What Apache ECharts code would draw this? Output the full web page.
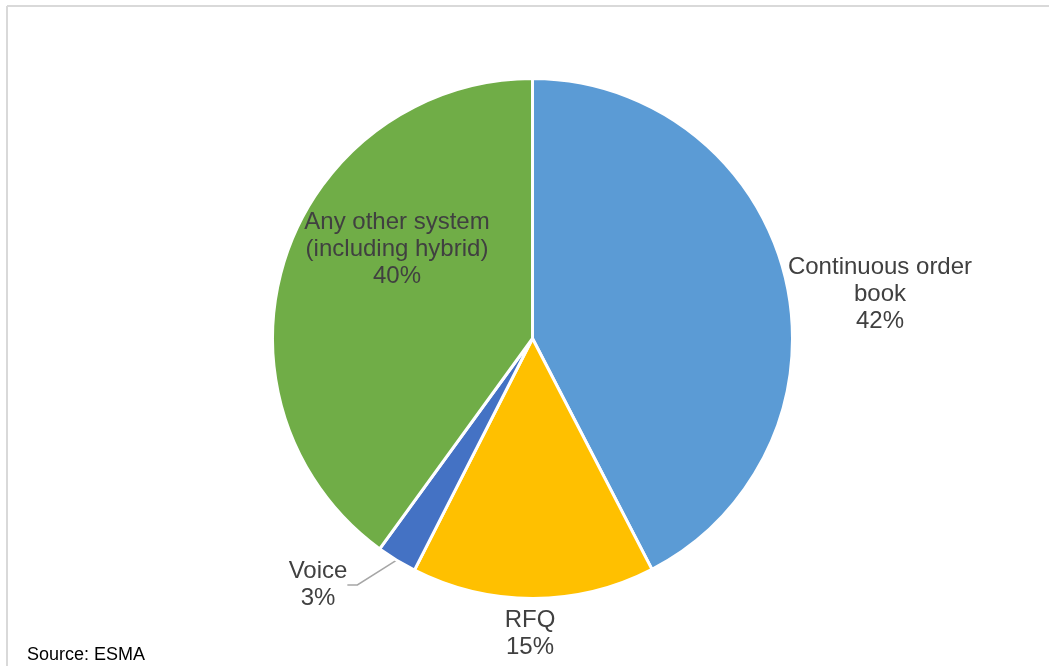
<!DOCTYPE html>
<html>
<head>
<meta charset="utf-8">
<script src="https://cdn.jsdelivr.net/npm/echarts@6/dist/echarts.min.js"></script>
<style>
html,body{margin:0;padding:0;background:#fff;}
#chart{width:1049px;height:666px;}
</style>
</head>
<body>
<div id="chart"></div>
<script>
const categories = ['Continuous order\nbook', 'RFQ', 'Voice', 'Any other system\n(including hybrid)'];
const shares = [42.4, 15.1, 2.5, 40.0];
const colors = ['#5B9BD5', '#FFC000', '#4472C4', '#70AD47'];
const sourceText = 'Source: ESMA';

// label anchor positions (layout only)
const labelPos = [
  {x: 880, y: 294},
  {x: 530, y: 634},
  {x: 318, y: 585},
  {x: 397, y: 249}
];

const chart = echarts.init(document.getElementById('chart'), null, {renderer: 'canvas'});
const data = categories.map((c, i) => ({
  name: c,
  value: shares[i],
  itemStyle: {color: colors[i]},
  labelLine: {show: i === 2}
}));

chart.setOption({
  animation: false,
  backgroundColor: '#fff',
  graphic: [
    {type: 'line', shape: {x1: 7, y1: 6, x2: 1049, y2: 6}, style: {stroke: '#d9d9d9', lineWidth: 2}},
    {type: 'line', shape: {x1: 7, y1: 6, x2: 7, y2: 666}, style: {stroke: '#d9d9d9', lineWidth: 2}},
    {type: 'text', left: 27, top: 646, style: {text: sourceText, fontFamily: 'Liberation Sans, Arial, sans-serif', fontSize: 18, fill: '#000'}}
  ],
  series: [{
    type: 'pie',
    center: [532.5, 338.5],
    radius: [0, 260],
    startAngle: 90,
    clockwise: true,
    avoidLabelOverlap: false,
    data: data,
    itemStyle: {borderColor: '#fff', borderWidth: 3},
    label: {
      show: true,
      position: 'outside',
      formatter: p => p.name + '\n' + Math.round(p.percent) + '%',
      fontFamily: 'Liberation Sans, Arial, sans-serif',
      fontSize: 24,
      lineHeight: 27,
      color: '#404040',
      align: 'center'
    },
    labelLine: {
      show: false,
      length: 14,
      length2: 10,
      lineStyle: {color: '#a6a6a6', width: 1.5}
    },
    labelLayout: function (params) {
      const p = labelPos[params.dataIndex];
      return {x: p.x, y: p.y, align: 'center', verticalAlign: 'middle'};
    }
  }]
});
</script>
</body>
</html>
